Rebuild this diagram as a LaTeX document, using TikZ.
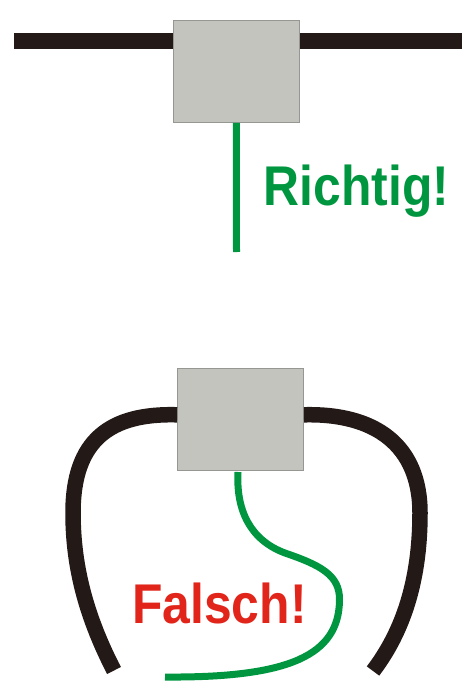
\documentclass[tikz,border=0pt]{standalone}
\usepackage{fontspec}
\setmainfont{Liberation Sans}
\newfontfamily\verdictfont[FakeStretch=0.89]{Liberation Sans Bold}
\usepackage{xcolor}
\usetikzlibrary{calc}
\definecolor{dosefill}{RGB}{195,196,190}
\definecolor{doseline}{RGB}{150,150,146}
\definecolor{cablecol}{RGB}{35,25,22}
\definecolor{okgreen}{RGB}{0,150,64}
\definecolor{badred}{RGB}{225,37,27}

\begin{document}
\begin{tikzpicture}[
    x=1pt, y=-1pt,
    dose/.style={draw=doseline, line width=0.8pt, fill=dosefill, minimum width=126pt, minimum height=102pt, inner sep=0pt},
    cable/.style={draw=cablecol, line width=15.5pt},
    wire/.style={draw=okgreen, line width=7pt},
    verdict/.style={font=\fontsize{56}{56}\verdictfont, inner sep=0pt, anchor=base west},
]
\useasboundingbox (0,0) rectangle (470,687);

% oben
\node[dose] (box_top) at (236.3, 71.5) {};
\coordinate (top_l) at (14, 41);
\coordinate (top_r) at (461.5, 41);
\coordinate (top_end) at (236.5, 252);
\draw[cable] (top_l) -- (top_l -| box_top.west);
\draw[cable] (top_r) -- (top_r -| box_top.east);
\draw[wire] (box_top.south) -- (top_end);
\node[verdict, text=okgreen] (richtig) at (263.5, 205) {Richtig!};

% unten
\node[dose] (box_bot) at (240.5, 419.3) {};
\coordinate (bot_l) at (114, 670.5);
\coordinate (bot_r) at (373, 671);
\coordinate (wire_start) at (238, 472);
\coordinate (wire_end) at (165, 677);
\draw[cable] ($(box_bot.west)+(0,-4.5)$) .. controls (110,413) and (73,440) .. (73,513)
    .. controls (73,570) and (88,620) .. (bot_l);
\draw[cable] ($(box_bot.east)+(0,-4.5)$) .. controls (375,413) and (420,445) .. (420,513)
    .. controls (420,570) and (408,625) .. (bot_r);
\draw[wire] (wire_start) .. controls (236,510) and (250,540) .. (285,553)
    .. controls (320,565) and (340,575) .. (339.5,600)
    .. controls (339,655) and (290,678) .. (wire_end);
\node[verdict, text=badred] (falsch) at (132, 623) {Falsch!};
\end{tikzpicture}
\end{document}
